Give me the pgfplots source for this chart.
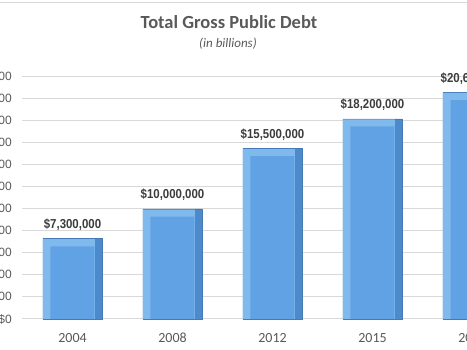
\documentclass[border=0pt]{standalone}
\usepackage{pgfplots}
\pgfplotsset{compat=1.18}
\usepackage{fontspec}
\setmainfont{Carlito}
\newfontfamily\arialfont{Liberation Sans}
\newfontfamily\labelfont{Liberation Sans}[FakeStretch=0.88]
\definecolor{txtgray}{RGB}{89,89,89}
\definecolor{lblgray}{RGB}{60,60,60}
\definecolor{gridgray}{RGB}{217,217,217}
\definecolor{bardark}{RGB}{76,138,204}
\definecolor{barlight}{RGB}{128,185,236}
\definecolor{barmain}{RGB}{96,162,228}
\definecolor{baredge}{RGB}{70,122,180}
\begin{document}
\begin{tikzpicture}
\begin{axis}[
  scale only axis,
  width=500pt, height=242pt,
  xmin=-0.5, xmax=4.5,
  ymin=0, ymax=22000000,
  clip=false,
  scaled y ticks=false,
  axis line style={draw=none},
  tick style={draw=none},
  ymajorgrids,
  grid style={gridgray, line width=1pt},
  xtick={0,1,2,3,4},
  xticklabels={2004,2008,2012,2015,2017},
  ytick={0,2000000,4000000,6000000,8000000,10000000,12000000,14000000,16000000,18000000,20000000,22000000},
  yticklabels={{\$0},{\$2,000,000},{\$4,000,000},{\$6,000,000},{\$8,000,000},{\$10,000,000},{\$12,000,000},{\$14,000,000},{\$16,000,000},{\$18,000,000},{\$20,000,000},{\$22,000,000}},
  xticklabel style={font=\fontsize{14}{14}\selectfont, text=txtgray, inner sep=0pt, anchor=north, yshift=-14pt},
  yticklabel style={font=\arialfont\fontsize{12}{12}\selectfont, text=txtgray, inner sep=0pt, anchor=east, xshift=-10.5pt},
]
% outer bar (dark right bevel) with data labels
\addplot[ybar, bar width=59pt, bar shift=0pt, fill=bardark, draw=baredge, line width=0.5pt,
  point meta=explicit symbolic,
  nodes near coords,
  every node near coord/.append style={font=\labelfont\bfseries\fontsize{13}{13}\selectfont, text=lblgray, inner sep=0pt, anchor=south, yshift=8pt}]
  coordinates {(0,7300000)[\$7,300,000] (1,10000000)[\$10,000,000] (2,15500000)[\$15,500,000] (3,18200000)[\$18,200,000] (4,20600000)[\$20,600,000]};
% light top/left bevel
\addplot[ybar, bar width=52pt, bar shift=-3.5pt, fill=barlight, draw=none]
  coordinates {(0,7250000) (1,9950000) (2,15450000) (3,18150000) (4,20550000)};
% main face
\addplot[ybar, bar width=44pt, bar shift=0pt, fill=barmain, draw=none]
  coordinates {(0,6600000) (1,9300000) (2,14800000) (3,17500000) (4,19900000)};
% title
\node[font=\bfseries\fontsize{18.5}{18.5}\selectfont, text=txtgray] at (axis cs:1.565,27000000) {Total Gross Public Debt};
\node[font=\itshape\fontsize{13}{13}\selectfont, text=txtgray] at (axis cs:1.555,25000000) {(in billions)};
\coordinate (bl) at (axis cs:-0.725,-2818000);
\coordinate (tr) at (axis cs:3.945,29000000);
\end{axis}
\draw[gridgray, line width=0.8pt] ([yshift=-2pt]bl |- tr) -- ([yshift=-2pt]tr);
\pgfresetboundingbox
\useasboundingbox (bl) rectangle (tr);
\end{tikzpicture}
\end{document}
